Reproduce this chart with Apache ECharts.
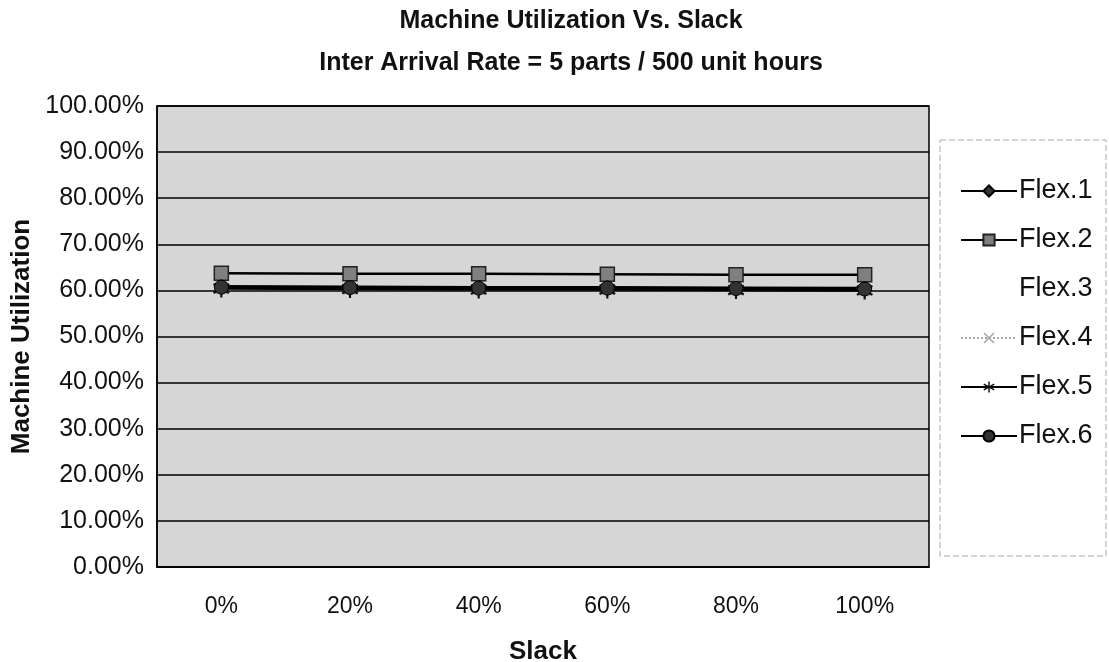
<!DOCTYPE html>
<html>
<head>
<meta charset="utf-8">
<script src="https://cdn.jsdelivr.net/npm/echarts@6/dist/echarts.min.js"></script>
<style>html,body{margin:0;padding:0;background:#fff}#c{width:1109px;height:662px}</style>
</head>
<body>
<div id="c"></div>
<script>
var categories = ['0%', '20%', '40%', '60%', '80%', '100%'];
var seriesNames = ['Flex.1', 'Flex.2', 'Flex.3', 'Flex.4', 'Flex.5', 'Flex.6'];
var flex1 = [0.609, 0.608, 0.607, 0.607, 0.606, 0.605];
var flex2 = [0.637, 0.636, 0.636, 0.635, 0.634, 0.634];
var flex3 = [0.606, 0.605, 0.604, 0.604, 0.603, 0.602];
var flex4 = [0.605, 0.604, 0.603, 0.603, 0.602, 0.601];
var flex5 = [0.604, 0.603, 0.602, 0.602, 0.601, 0.600];
var flex6 = [0.607, 0.606, 0.605, 0.605, 0.604, 0.603];

var asterisk = 'path://M-1.2,-10 L1.2,-10 L1.2,10 L-1.2,10 Z M-9.26,-3.96 L-8.06,-6.04 L9.26,3.96 L8.06,6.04 Z M8.06,-6.04 L9.26,-3.96 L-8.06,6.04 L-9.26,3.96 Z';
var xmark = 'path://M-8,-6.3 L-6.3,-8 L8,6.3 L6.3,8 Z M6.3,-8 L8,-6.3 L-6.3,8 L-8,6.3 Z';

var chart = echarts.init(document.getElementById('c'));
var font = 'Liberation Sans, Arial, sans-serif';
function mk(name, data, opts) {
  return Object.assign({
    name: name, type: 'line', data: data,
    symbolSize: 12, symbolKeepAspect: true,
    lineStyle: {color: '#000', width: 2.5},
    itemStyle: {color: '#222', borderColor: '#000', borderWidth: 1},
    z: 3
  }, opts);
}
chart.setOption({
  animation: false,
  backgroundColor: '#fff',
  title: {
    text: 'Machine Utilization Vs. Slack\nInter Arrival Rate = 5 parts / 500 unit hours',
    left: 566, top: -5, textAlign: 'center',
    textStyle: {fontFamily: font, fontSize: 25, fontWeight: 'bold', color: '#111', lineHeight: 42}
  },
  graphic: [{
    type: 'rect', shape: {x: 940, y: 140, width: 166, height: 416},
    style: {fill: 'none', stroke: '#aaa', lineWidth: 1, lineDash: [6, 3]}
  }],
  legend: {
    orient: 'vertical', left: 955, top: 171,
    itemWidth: 56, itemHeight: 14, itemGap: 19,
    textStyle: {fontFamily: font, fontSize: 27, lineHeight: 30, color: '#111', padding: [0, 0, 0, -3]},
    data: [
      {name: 'Flex.1'}, {name: 'Flex.2'}, {name: 'Flex.3', icon: 'none'},
      {name: 'Flex.4'}, {name: 'Flex.5'}, {name: 'Flex.6'}
    ]
  },
  grid: {
    left: 157, right: 180, top: 106, bottom: 95,
    outerBoundsMode: 'none', containLabel: false,
    show: true, backgroundColor: '#d6d6d6', borderColor: '#000', borderWidth: 1.5
  },
  xAxis: {
    type: 'category', data: categories, boundaryGap: true,
    name: 'Slack', nameLocation: 'middle', nameGap: 72,
    nameTextStyle: {fontFamily: font, fontSize: 26, fontWeight: 'bold', color: '#111'},
    axisLine: {lineStyle: {color: '#000', width: 1.5}},
    axisTick: {show: false},
    axisLabel: {fontFamily: font, fontSize: 23, color: '#111', margin: 28}
  },
  yAxis: {
    type: 'value', min: 0, max: 1, interval: 0.1,
    name: 'Machine Utilization', nameLocation: 'middle', nameGap: 121,
    nameTextStyle: {fontFamily: font, fontSize: 26, fontWeight: 'bold', color: '#111'},
    axisLine: {show: true, lineStyle: {color: '#000', width: 1.5}},
    axisTick: {show: false},
    splitLine: {lineStyle: {color: '#000', width: 1.5}},
    axisLabel: {fontFamily: font, fontSize: 25, color: '#111', margin: 13,
      formatter: function (v) { return (v * 100).toFixed(2) + '%'; }}
  },
  series: [
    mk('Flex.1', flex1, {symbol: 'diamond', symbolSize: 14, itemStyle: {color: '#333', borderColor: '#000', borderWidth: 1}}),
    mk('Flex.2', flex2, {symbol: 'rect', symbolSize: 14, itemStyle: {color: '#808080', borderColor: '#222', borderWidth: 1.5}}),
    mk('Flex.3', flex3, {symbol: 'none', lineStyle: {opacity: 0}, z: 1}),
    mk('Flex.4', flex4, {symbol: xmark, symbolSize: 13, lineStyle: {color: '#aaa', width: 1, type: 'dotted'}, itemStyle: {color: '#aaa', borderWidth: 0}, z: 2}),
    mk('Flex.5', flex5, {symbol: asterisk, symbolSize: 18, itemStyle: {color: '#111', borderWidth: 0}}),
    mk('Flex.6', flex6, {symbol: 'circle', symbolSize: 14, itemStyle: {color: '#333', borderColor: '#000', borderWidth: 1}})
  ]
});
</script>
</body>
</html>
